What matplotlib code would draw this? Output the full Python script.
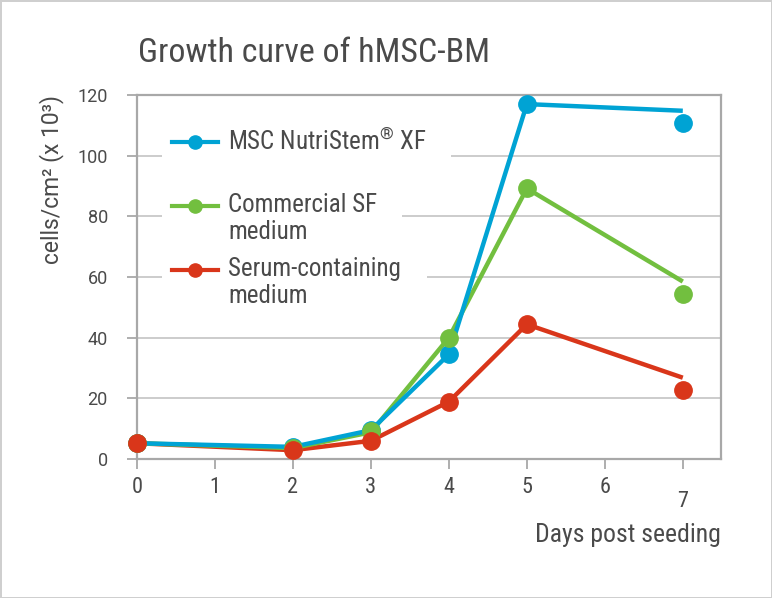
import matplotlib
matplotlib.use("Agg")
import matplotlib.pyplot as plt
from matplotlib.lines import Line2D
from matplotlib.patches import Rectangle

plt.rcParams['font.family'] = ['Roboto Condensed', 'DejaVu Sans']
plt.rcParams['mathtext.fontset'] = 'custom'
plt.rcParams['mathtext.rm'] = 'Roboto Condensed'

# data
days = [0, 2, 3, 4, 5, 7]
nutristem_line = [5.2, 4.0, 9.5, 34.5, 117.0, 114.8]
nutristem_pts = [5.2, 4.0, 9.5, 34.5, 117.0, 110.8]
commercial_line = [5.2, 3.6, 8.8, 40.0, 89.2, 58.5]
commercial_pts = [5.2, 3.6, 9.2, 40.0, 89.2, 54.5]
serum_line = [5.2, 2.9, 6.0, 18.9, 44.4, 26.8]
serum_pts = [5.2, 2.9, 6.0, 18.9, 44.4, 22.7]

labels = [r"MSC NutriStem$^{\mathrm{®}}$ XF", "Commercial SF\nmedium",
          "Serum-containing\nmedium"]
colors = ["#00a3d4", "#72bf3f", "#d9361a"]
xticks = [0, 1, 2, 3, 4, 5, 6, 7]
yticks = [0, 20, 40, 60, 80, 100, 120]

txt = "#4a4a4a"
spine = "#a8a8a8"

fig = plt.figure(figsize=(7.72, 5.98), dpi=100, facecolor="white",
                 edgecolor="#cfcfcf", linewidth=2)
ax = fig.add_axes([137 / 772, 1 - 459 / 598, 584 / 772, 364 / 598])

lines = [nutristem_line, commercial_line, serum_line]
pts = [nutristem_pts, commercial_pts, serum_pts]

# lines first, then dots on top (blue under green under red)
for ln, c in zip(lines[::-1], colors[::-1]):
    ax.plot(days, ln, color=c, lw=3.2, zorder=3, clip_on=False, solid_capstyle="butt")
for p, c in zip(pts, colors):
    ax.plot(days, p, "o", color=c, ms=12.5, zorder=4, clip_on=False)

ax.set_xlim(0, 7.49)
ax.set_ylim(0, 120)
ax.set_xticks(xticks)
ax.set_yticks(yticks)
ax.grid(axis="y", color="#c4c4c4", lw=1.2, zorder=1)
ax.set_axisbelow(True)
for s in ax.spines.values():
    s.set_color(spine)
    s.set_linewidth(1.6)

ax.tick_params(axis="y", length=7, width=1.3, color=spine, pad=14,
               labelsize=13, labelcolor=txt)
ax.tick_params(axis="x", length=7, width=1.3, color=spine, pad=6,
               labelsize=16, labelcolor=txt)
for lab in ax.get_yticklabels():
    lab.set_fontfamily("Roboto")
# the 7 sits lower than the others
ax.xaxis.get_major_ticks()[7].set_pad(16)

ax.set_ylabel("cells/cm² (x 10³)", fontsize=16.5, color=txt, labelpad=10,
              loc="top", family="Roboto")
ax.text(1.0, -0.21, "Days post seeding", transform=ax.transAxes,
        ha="right", va="center", fontsize=18.5, color=txt)
fig.text(138 / 772, 1 - 53 / 598, "Growth curve of hMSC-BM", ha="left",
         va="center", fontsize=24.5, color=txt)

# hand-made legend with white boxes that break the grid lines
box_w = [289, 240, 265]
box_y = [(126, 162), (188, 248), (252, 312)]
row_y = [142, 205.5, 270]
base_y = [150.5, 239, 303]  # baseline of the last text line
for lab, c, bw, (y0, y1), ry, by in zip(labels, colors, box_w, box_y, row_y, base_y):
    ax.add_patch(Rectangle(((162 - 137) / 584, (459 - y1) / 364), bw / 584,
                           (y1 - y0) / 364, transform=ax.transAxes,
                           facecolor="white", edgecolor="none", zorder=2))
    yy = (459 - ry) / 364
    ax.add_line(Line2D([35 / 584, 81 / 584], [yy, yy], transform=ax.transAxes,
                       color=c, lw=3, zorder=5))
    ax.add_line(Line2D([58 / 584], [yy], transform=ax.transAxes, marker="o",
                       color=c, ms=9.5, zorder=5))
    ax.text(91 / 584, (459 - by) / 364, lab, transform=ax.transAxes, ha="left",
            va="baseline", fontsize=18, color=txt, linespacing=1.15, zorder=5)

fig.savefig("out.png", dpi=100, facecolor="white", edgecolor=fig.get_edgecolor())
